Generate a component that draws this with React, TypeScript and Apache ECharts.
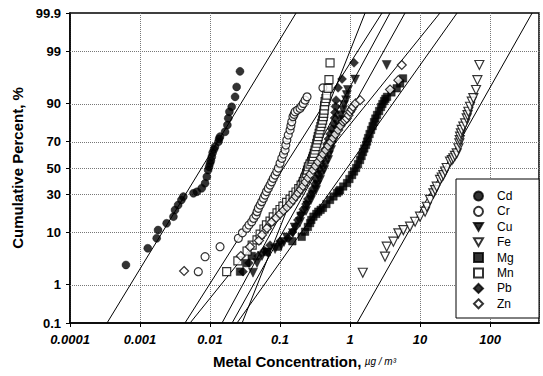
import React, { useEffect, useRef } from 'react';
import * as echarts from 'echarts';

// Metals in legend order
const metals = ['Cd', 'Cr', 'Cu', 'Fe', 'Mg', 'Mn', 'Pb', 'Zn'];

// Ranked samples: [concentration (µg/m³), cumulative percent]
const cdPoints = [
  [0.00063, 2.66], [0.00129, 5.47], [0.00173, 8.06], [0.00181, 10.8], [0.0024, 13.5],
  [0.003, 16.6], [0.00316, 20.1], [0.0035, 23.0], [0.0039, 26.2], [0.00416, 28.4],
  [0.0058, 30.7], [0.0065, 31.8], [0.0076, 34.3], [0.0085, 38.0], [0.009, 43.1],
  [0.0094, 48.4], [0.0097, 51.0], [0.01, 53.7], [0.0103, 56.0], [0.0106, 58.9],
  [0.0109, 62.0], [0.0114, 64.5], [0.0118, 66.5], [0.0132, 70.0], [0.0135, 72.0],
  [0.0139, 73.4], [0.0164, 76.5], [0.0177, 80.4], [0.0182, 83.9], [0.0189, 86.9],
  [0.0204, 88.9], [0.0228, 92.2], [0.024, 94.7], [0.0268, 97.3],
];
const crPoints = [
  [0.0068, 1.94], [0.0085, 3.85], [0.0139, 5.83], [0.0254, 8.05], [0.029, 9.8],
  [0.0334, 11.5], [0.036, 12.8], [0.0394, 14.2], [0.042, 15.8], [0.0454, 17.4],
  [0.047, 19.2], [0.049, 21.1], [0.052, 23.0], [0.0548, 25.1], [0.058, 27.3],
  [0.0611, 29.5], [0.064, 31.9], [0.068, 34.3], [0.072, 36.7], [0.076, 39.2],
  [0.08, 41.8], [0.085, 44.4], [0.09, 47.2], [0.0946, 50.0], [0.1, 53.8],
  [0.106, 57.7], [0.112, 60.9], [0.118, 64.0], [0.121, 67.6], [0.125, 71.2],
  [0.131, 74.5], [0.139, 77.6], [0.143, 80.0], [0.147, 82.2], [0.153, 84.7],
  [0.159, 85.8], [0.164, 86.9], [0.178, 87.6], [0.193, 88.3], [0.204, 89.2],
  [0.215, 90.1], [0.228, 91.2], [0.243, 92.2], [0.41, 94.5],
];
const cuPoints = [
  [0.0411, 1.84], [0.047, 2.9], [0.0553, 3.97], [0.066, 4.6], [0.085, 5.3],
  [0.104, 6.2], [0.114, 7.0], [0.125, 8.3], [0.153, 9.7], [0.162, 11.8],
  [0.193, 14.1], [0.2, 16.7], [0.235, 19.6], [0.245, 22.8], [0.277, 26.2],
  [0.29, 29.5], [0.327, 33.0], [0.34, 36.8], [0.372, 40.6], [0.385, 44.5],
  [0.426, 48.4], [0.44, 52.3], [0.486, 56.3], [0.5, 60.1], [0.536, 64.0],
  [0.55, 67.6], [0.59, 71.2], [0.6, 74.5], [0.652, 77.6], [0.67, 80.4],
  [0.72, 83.1], [0.74, 85.4], [0.794, 87.6], [0.82, 89.5], [0.877, 91.2],
  [0.9, 92.7], [0.935, 94.0], [1.18, 96.1], [3.34, 98.0],
];
const fePoints = [
  [1.52, 1.84], [3.16, 3.85], [3.34, 5.83], [4.16, 7.09], [4.9, 9.65],
  [5.77, 10.8], [7.2, 12.1], [8.5, 14.2], [10.0, 16.6], [11.8, 19.2],
  [12.5, 22.0], [13.9, 26.2], [15.5, 30.7], [16.4, 33.0], [17.3, 35.5],
  [19.3, 40.6], [20.4, 42.5], [21.5, 44.4], [22.8, 47.2], [24.0, 50.0],
  [26.8, 55.0], [28.5, 56.3], [29.9, 57.7], [31.5, 59.6], [33.4, 61.5],
  [35.3, 65.3], [36.4, 68.9], [36.9, 71.1], [37.3, 73.4], [38.3, 75.5],
  [39.4, 77.6], [41.5, 79.5], [44.0, 81.3], [46.4, 83.9], [47.7, 85.4],
  [49.0, 86.9], [51.8, 88.9], [54.8, 90.7], [57.7, 91.8], [63.0, 94.0],
  [65.9, 96.0], [70.3, 98.0],
];
const mgPoints = [
  [0.0268, 1.94], [0.033, 2.9], [0.0394, 3.97], [0.0646, 4.7], [0.0935, 5.83],
  [0.15, 7.2], [0.204, 8.5], [0.228, 10.2], [0.25, 12.0], [0.269, 13.6],
  [0.28, 15.0], [0.3, 16.6], [0.33, 18.0], [0.352, 19.2], [0.38, 20.2],
  [0.41, 21.3], [0.46, 23.6], [0.518, 26.2], [0.58, 28.5], [0.652, 30.9],
  [0.69, 32.0], [0.72, 33.0], [0.8, 35.6], [0.906, 38.2], [0.98, 41.3],
  [1.07, 44.4], [1.14, 47.2], [1.22, 50.0], [1.3, 53.1], [1.39, 56.3],
  [1.46, 59.4], [1.53, 62.5], [1.6, 65.1], [1.69, 67.7], [1.75, 70.1],
  [1.81, 72.5], [1.9, 75.1], [2.0, 77.6], [2.1, 79.8], [2.2, 82.0],
  [2.3, 83.8], [2.43, 85.5], [2.6, 87.2], [2.77, 88.8], [2.9, 89.9],
  [3.06, 90.9], [3.2, 91.6], [3.38, 92.2], [3.9, 93.4], [4.64, 94.4],
  [5.2, 95.4], [5.71, 96.3],
];
const mnPoints = [
  [0.0173, 1.94], [0.025, 3.2], [0.0338, 4.9], [0.04, 6.2], [0.0469, 7.6],
  [0.052, 9.4], [0.059, 11.2], [0.064, 12.8], [0.072, 14.5], [0.08, 16.5],
  [0.0906, 18.5], [0.1, 20.4], [0.11, 22.4], [0.124, 24.6], [0.139, 26.8],
  [0.154, 29.2], [0.169, 31.6], [0.185, 34.1], [0.2, 36.7], [0.215, 39.4],
  [0.228, 42.1], [0.24, 45.5], [0.247, 48.3], [0.254, 51.0], [0.268, 53.0],
  [0.284, 55.0], [0.292, 57.0], [0.3, 58.9], [0.308, 61.5], [0.316, 64.0],
  [0.325, 66.5], [0.334, 68.9], [0.343, 71.2], [0.352, 73.4], [0.362, 75.5],
  [0.372, 77.6], [0.383, 79.5], [0.394, 81.3], [0.405, 83.0], [0.416, 84.7],
  [0.421, 86.2], [0.426, 87.6], [0.433, 89.2], [0.44, 90.7], [0.452, 91.7],
  [0.464, 92.7], [0.486, 94.4], [0.5, 96.1], [0.518, 98.2],
];
const pbPoints = [
  [0.0296, 1.94], [0.036, 2.9], [0.0486, 3.97], [0.06, 5.0], [0.072, 6.2],
  [0.1, 7.2], [0.13, 8.1], [0.15, 10.1], [0.169, 12.4], [0.18, 15.0],
  [0.2, 18.0], [0.215, 20.6], [0.235, 23.6], [0.25, 26.8], [0.277, 30.2],
  [0.295, 33.8], [0.316, 37.5], [0.33, 41.3], [0.349, 45.2], [0.365, 49.2],
  [0.386, 53.2], [0.405, 57.1], [0.426, 61.0], [0.445, 64.7], [0.469, 68.4],
  [0.49, 71.8], [0.518, 75.1], [0.545, 78.1], [0.59, 81.0], [0.6, 84.0],
  [0.61, 86.6], [0.62, 89.0], [0.631, 91.2], [0.675, 94.5], [0.769, 96.2], [1.14, 98.2],
];
const znPoints = [
  [0.00426, 2.0], [0.0275, 3.97], [0.0372, 5.8], [0.05, 7.4], [0.0553, 9.1],
  [0.065, 11.5], [0.076, 14.1], [0.088, 16.0], [0.1, 18.0], [0.112, 19.9],
  [0.126, 21.8], [0.14, 24.0], [0.153, 26.2], [0.167, 28.5], [0.181, 30.9],
  [0.197, 33.4], [0.213, 36.0], [0.23, 39.0], [0.251, 42.1], [0.272, 45.2],
  [0.296, 48.4], [0.32, 51.6], [0.349, 54.8], [0.38, 58.0], [0.411, 61.0],
  [0.45, 64.0], [0.486, 67.0], [0.53, 69.8], [0.572, 72.5], [0.62, 75.0],
  [0.675, 77.6], [0.73, 80.0], [0.794, 82.2], [0.85, 83.0], [0.898, 83.9],
  [0.95, 85.4], [1.0, 86.9], [1.05, 87.9], [1.1, 88.9], [1.2, 90.1],
  [1.39, 91.2], [3.73, 94.1], [4.9, 96.0], [5.48, 98.0],
];

// Lognormal fits: geometric mean and geometric standard deviation per metal
const fitGeoMean = [0.00757, 0.112, 0.355, 22.4, 0.906, 0.217, 0.235, 0.316];
const fitGeoSD = [2.735, 2.854, 2.51, 2.54, 3.226, 1.924, 2.445, 3.78];

// Probability-axis tick labels (%)
const percentTicks = [0.1, 1, 10, 30, 50, 70, 90, 99, 99.9];

const allPoints = [cdPoints, crPoints, cuPoints, fePoints, mgPoints, mnPoints, pbPoints, znPoints];

// Inverse standard normal CDF (Acklam's rational approximation)
function probit(p: number): number {
  const a = [-39.69683028665376, 220.9460984245205, -275.9285104469687, 138.357751867269, -30.66479806614716, 2.506628277459239];
  const b = [-54.47609879822406, 161.5858368580409, -155.6989798598866, 66.80131188771972, -13.28068155288572];
  const c = [-0.007784894002430293, -0.3223964580411365, -2.400758277161838, -2.549732539343734, 4.374664141464968, 2.938163982698783];
  const d = [0.007784695709041462, 0.3224671290700398, 2.445134137142996, 3.754408661907416];
  const pl = 0.02425;
  if (p < pl) {
    const q = Math.sqrt(-2 * Math.log(p));
    return (((((c[0] * q + c[1]) * q + c[2]) * q + c[3]) * q + c[4]) * q + c[5]) /
      ((((d[0] * q + d[1]) * q + d[2]) * q + d[3]) * q + 1);
  }
  if (p <= 1 - pl) {
    const q = p - 0.5;
    const r = q * q;
    return (((((a[0] * r + a[1]) * r + a[2]) * r + a[3]) * r + a[4]) * r + a[5]) * q /
      (((((b[0] * r + b[1]) * r + b[2]) * r + b[3]) * r + b[4]) * r + 1);
  }
  const q = Math.sqrt(-2 * Math.log(1 - p));
  return -(((((c[0] * q + c[1]) * q + c[2]) * q + c[3]) * q + c[4]) * q + c[5]) /
    ((((d[0] * q + d[1]) * q + d[2]) * q + d[3]) * q + 1);
}

const FONT = '"Liberation Sans", Arial, sans-serif';
const TRI_DOWN = 'path://M0,0L10,0L5,8.7Z';
const GRID_DOT = { color: '#777', type: 'dotted' as const, width: 1 };

// Marker look per metal: shape, filled or hollow, size
const markerStyles: Record<string, { symbol: string; filled: boolean; size: number }> = {
  Cd: { symbol: 'circle', filled: true, size: 8 },
  Cr: { symbol: 'circle', filled: false, size: 8 },
  Cu: { symbol: TRI_DOWN, filled: true, size: 9 },
  Fe: { symbol: TRI_DOWN, filled: false, size: 9 },
  Mg: { symbol: 'rect', filled: true, size: 7.5 },
  Mn: { symbol: 'rect', filled: false, size: 8 },
  Pb: { symbol: 'diamond', filled: true, size: 9 },
  Zn: { symbol: 'diamond', filled: false, size: 9 },
};

export default function App() {
  const ref = useRef<HTMLDivElement>(null);

  useEffect(() => {
    if (!ref.current) return;
    const chart = echarts.init(ref.current, undefined, { renderer: 'svg' });

    const zMax = probit(percentTicks[percentTicks.length - 1] / 100);
    const tickZ = percentTicks.map((p) => probit(p / 100));

    const fitSeries = metals.map((m, i) => ({
      name: `${m} fit`,
      type: 'line',
      silent: true,
      symbol: 'none',
      z: 2,
      lineStyle: { color: '#000', width: 1 },
      data: [
        [fitGeoMean[i] * Math.pow(fitGeoSD[i], -zMax), -zMax],
        [fitGeoMean[i] * Math.pow(fitGeoSD[i], zMax), zMax],
      ],
      // horizontal dotted grid at the inner probability ticks
      ...(i === 0
        ? {
            markLine: {
              silent: true,
              symbol: 'none',
              label: { show: false },
              lineStyle: GRID_DOT,
              z: 1,
              data: tickZ.slice(1, -1).map((z) => ({ yAxis: z })),
            },
          }
        : {}),
    }));

    const pointSeries = metals.map((m, i) => {
      const s = markerStyles[m];
      return {
        name: m,
        type: 'scatter',
        symbol: s.symbol,
        symbolSize: s.size,
        z: 3,
        itemStyle: s.filled
          ? { color: '#000', borderColor: '#000', borderWidth: 0.5 }
          : { color: '#fff', borderColor: '#000', borderWidth: 1.2 },
        data: allPoints[i].map(([c, p]) => [c, probit(p / 100)]),
      };
    });

    chart.setOption({
      animation: false,
      backgroundColor: '#fff',
      grid: {
        left: 70, right: 4, top: 13, bottom: 53,
        show: true, borderColor: '#000', borderWidth: 1.5,
        outerBoundsMode: 'none',
      },
      xAxis: {
        type: 'log',
        logBase: 10,
        min: 0.0001,
        max: 500,
        name: '{a|Metal Concentration,} {b|µg / m³}',
        nameLocation: 'middle',
        nameGap: 31,
        nameTextStyle: {
          rich: {
            a: { fontFamily: FONT, fontSize: 15, fontWeight: 'bold', color: '#000' },
            b: { fontFamily: FONT, fontSize: 10, fontStyle: 'italic', color: '#000' },
          },
        },
        axisLine: { onZero: false, lineStyle: { color: '#000', width: 1.5 } },
        axisTick: { show: true, length: 4, lineStyle: { color: '#000' } },
        axisLabel: {
          margin: 10,
          showMaxLabel: false,
          fontFamily: FONT, fontSize: 13, fontStyle: 'italic', fontWeight: 'bold', color: '#000',
          formatter: (v: number) => String(Number(v.toPrecision(1))),
        },
        splitLine: { show: true, lineStyle: GRID_DOT },
        minorTick: { show: false },
      },
      yAxis: {
        type: 'value',
        min: -zMax,
        max: zMax,
        name: 'Cumulative Percent, %',
        nameLocation: 'middle',
        nameGap: 42,
        nameTextStyle: { fontFamily: FONT, fontSize: 15, fontWeight: 'bold', color: '#000' },
        axisLine: { onZero: false, lineStyle: { color: '#000', width: 1.5 } },
        axisTick: { show: true, length: 4, customValues: tickZ, lineStyle: { color: '#000' } },
        axisLabel: {
          customValues: tickZ,
          margin: 9,
          fontFamily: FONT, fontSize: 13, fontWeight: 'bold', color: '#000',
          formatter: (v: number) => {
            let best = 0;
            tickZ.forEach((z, k) => { if (Math.abs(z - v) < Math.abs(tickZ[best] - v)) best = k; });
            return String(percentTicks[best]);
          },
        },
        splitLine: { show: false },
      },
      legend: {
        data: metals,
        orient: 'vertical',
        left: 473,
        top: 190,
        padding: 0,
        itemWidth: 9,
        itemHeight: 9,
        itemGap: 3.4,
        z: 5,
        formatter: (n: string) => `{p|}${n}`,
        textStyle: {
          fontFamily: FONT, fontSize: 12, lineHeight: 12, color: '#000',
          rich: { p: { width: 9, lineHeight: 12 } },
        },
      },
      graphic: [
        {
          type: 'rect',
          z: 4,
          shape: { x: 456, y: 179, width: 83, height: 139 },
          style: { fill: '#fff', stroke: '#000', lineWidth: 1 },
        },
      ],
      series: [...fitSeries, ...pointSeries],
    });

    return () => chart.dispose();
  }, []);

  return (
    <div
      ref={ref}
      style={{ position: 'fixed', left: 0, top: 0, width: 543, height: 376 }}
    />
  );
}
